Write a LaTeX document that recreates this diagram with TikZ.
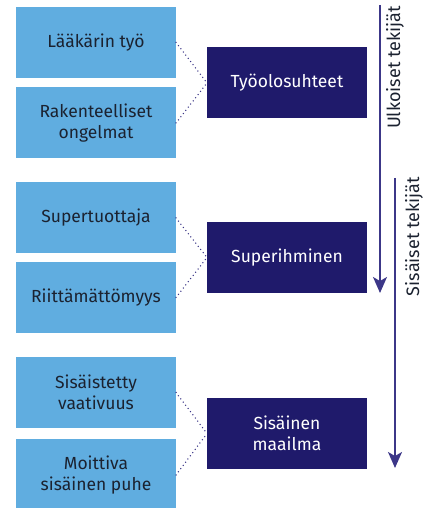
\documentclass[tikz,border=0pt]{standalone}
\usepackage{fontspec}
\setmainfont{Fira Sans}
\usetikzlibrary{arrows.meta}
\definecolor{c5dade2}{RGB}{96,173,224}
\definecolor{c1f1a6b}{RGB}{31,26,107}
\definecolor{c3c3788}{RGB}{60,55,136}
\definecolor{c1b2230}{RGB}{27,34,48}

\tikzset{
  lightbox/.style={fill=c5dade2,text=c1b2230,minimum width=160pt,minimum height=71pt,align=center,inner sep=0pt,font=\fontsize{17.5}{21}\selectfont},
  darkbox/.style={fill=c1f1a6b,text=white,minimum width=160pt,minimum height=71pt,align=center,inner sep=0pt,font=\fontsize{17.5}{21}\selectfont},
  dotline/.style={draw=c3c3788,line width=1.5pt,line cap=round,dash pattern=on 0pt off 4pt},
  flowarrow/.style={draw=c3c3788,line width=1.4pt,-{Stealth[length=16pt,width=14pt,inset=4pt]}},
  sidelabel/.style={text=c1b2230,rotate=90,font=\fontsize{18}{21}\selectfont}
}

\begin{document}
\begin{tikzpicture}[x=1pt, y=1pt, inner sep=0pt, outer sep=0pt]
  \useasboundingbox (0, 0) rectangle (427, 508);

  % ulkoiset tekijat
  \node[lightbox] (laakarintyo) at (96, 465.5){Lääkärin työ};
  \node[lightbox] (rakenteelliset) at (96, 385){Rakenteelliset\\ongelmat};
  \node[darkbox] (tyoolosuhteet) at (287, 425){Työolosuhteet};

  % sisaiset tekijat
  \node[lightbox] (supertuottaja) at (96, 290){Supertuottaja};
  \node[lightbox] (riittamattomyys) at (96, 210.5){Riittämättömyys};
  \node[darkbox] (superihminen) at (287, 250.5){Superihminen};

  \node[lightbox] (sisaistetty) at (96, 115.5){Sisäistetty\\vaativuus};
  \node[lightbox] (moittiva) at (96, 33){Moittiva\\sisäinen puhe};
  \node[darkbox] (sisainenmaailma) at (287, 74.5){Sisäinen\\maailma};

  \path[dotline] (laakarintyo.east) -- (tyoolosuhteet.west);
  \path[dotline] (rakenteelliset.east) -- (tyoolosuhteet.west);
  \path[dotline] (supertuottaja.east) -- (superihminen.west);
  \path[dotline] (riittamattomyys.east) -- (superihminen.west);
  \path[dotline] (sisaistetty.east) -- (sisainenmaailma.west);
  \path[dotline] (moittiva.east) -- (sisainenmaailma.west);

  \coordinate (ulkoalku) at (380, 503);
  \coordinate (ulkoloppu) at (380, 215);
  \coordinate (sisaalku) at (395, 330);
  \coordinate (sisaloppu) at (395, 40);
  \path[flowarrow] (ulkoalku) -- (ulkoloppu);
  \path[flowarrow] (sisaalku) -- (sisaloppu);

  \node[sidelabel] (ulkoiset) at (395, 440.5){Ulkoiset tekijät};
  \node[sidelabel] (sisaiset) at (414, 271.5){Sisäiset tekijät};

\end{tikzpicture}
\end{document}
